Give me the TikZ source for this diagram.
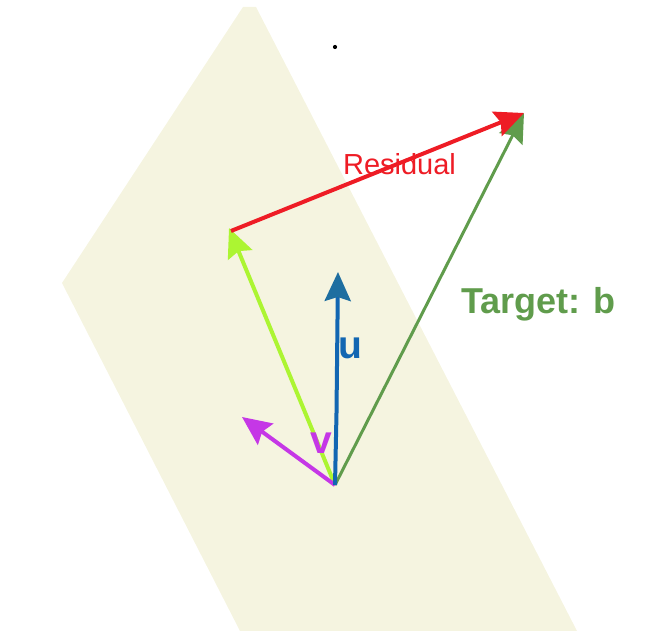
\documentclass[tikz,border=0pt]{standalone}
\usepackage{fontspec}
\setmainfont{Liberation Sans}
\usetikzlibrary{arrows.meta}
\definecolor{planec}{RGB}{245,244,224}
\definecolor{targetc}{RGB}{96,156,76}
\definecolor{projc}{RGB}{172,245,50}
\definecolor{resc}{RGB}{238,28,37}
\definecolor{vc}{RGB}{197,55,230}
\definecolor{uc}{RGB}{18,102,178}
\definecolor{uhead}{RGB}{30,110,160}
\tikzset{
  vecline/.style={line width=4pt,-{Stealth[length=29pt,width=26pt,inset=4pt]}},
  lbl/.style={inner sep=0pt,anchor=base},
}
\begin{document}
\begin{tikzpicture}[x=1pt,y=-1pt]
\useasboundingbox (0,0) rectangle (651,631);
\fill[planec] (243,7) -- (256,7) -- (577,631) -- (240,631) -- (62,283) -- cycle;
\fill[black] (335,47) circle (2.1);
\coordinate (O) at (335,485);
\coordinate (B) at (524,113);
\coordinate (P) at (229,228);
\coordinate (R0) at (231,231);
\coordinate (V) at (242,417);
\coordinate (U) at (338,272);
\coordinate (Uk) at (336.5,413);
\draw[vecline,targetc,line width=3pt] (O) -- (B);
\draw[vecline,projc] (O) -- (P);
\draw[vecline,resc] (R0) -- (B);
\draw[vecline,vc] (O) -- (V);
\draw[line width=4pt,uc,-{Stealth[length=29pt,width=26pt,inset=4pt,fill=uhead,color=uhead]}] (O) -- (Uk) -- (U);
\node[lbl,resc,font=\fontsize{29}{29}\selectfont] (res) at (399.5,175) {Residual};
\node[lbl,targetc,font=\fontsize{36}{36}\bfseries] (tgt) at (538.5,313) {Target: b};
\node[lbl,uc,font=\fontsize{39}{39}\bfseries] (ul) at (350.5,358) {u};
\node[lbl,vc,font=\fontsize{39}{39}\bfseries] (vl) at (321.5,453) {v};
\end{tikzpicture}
\end{document}
